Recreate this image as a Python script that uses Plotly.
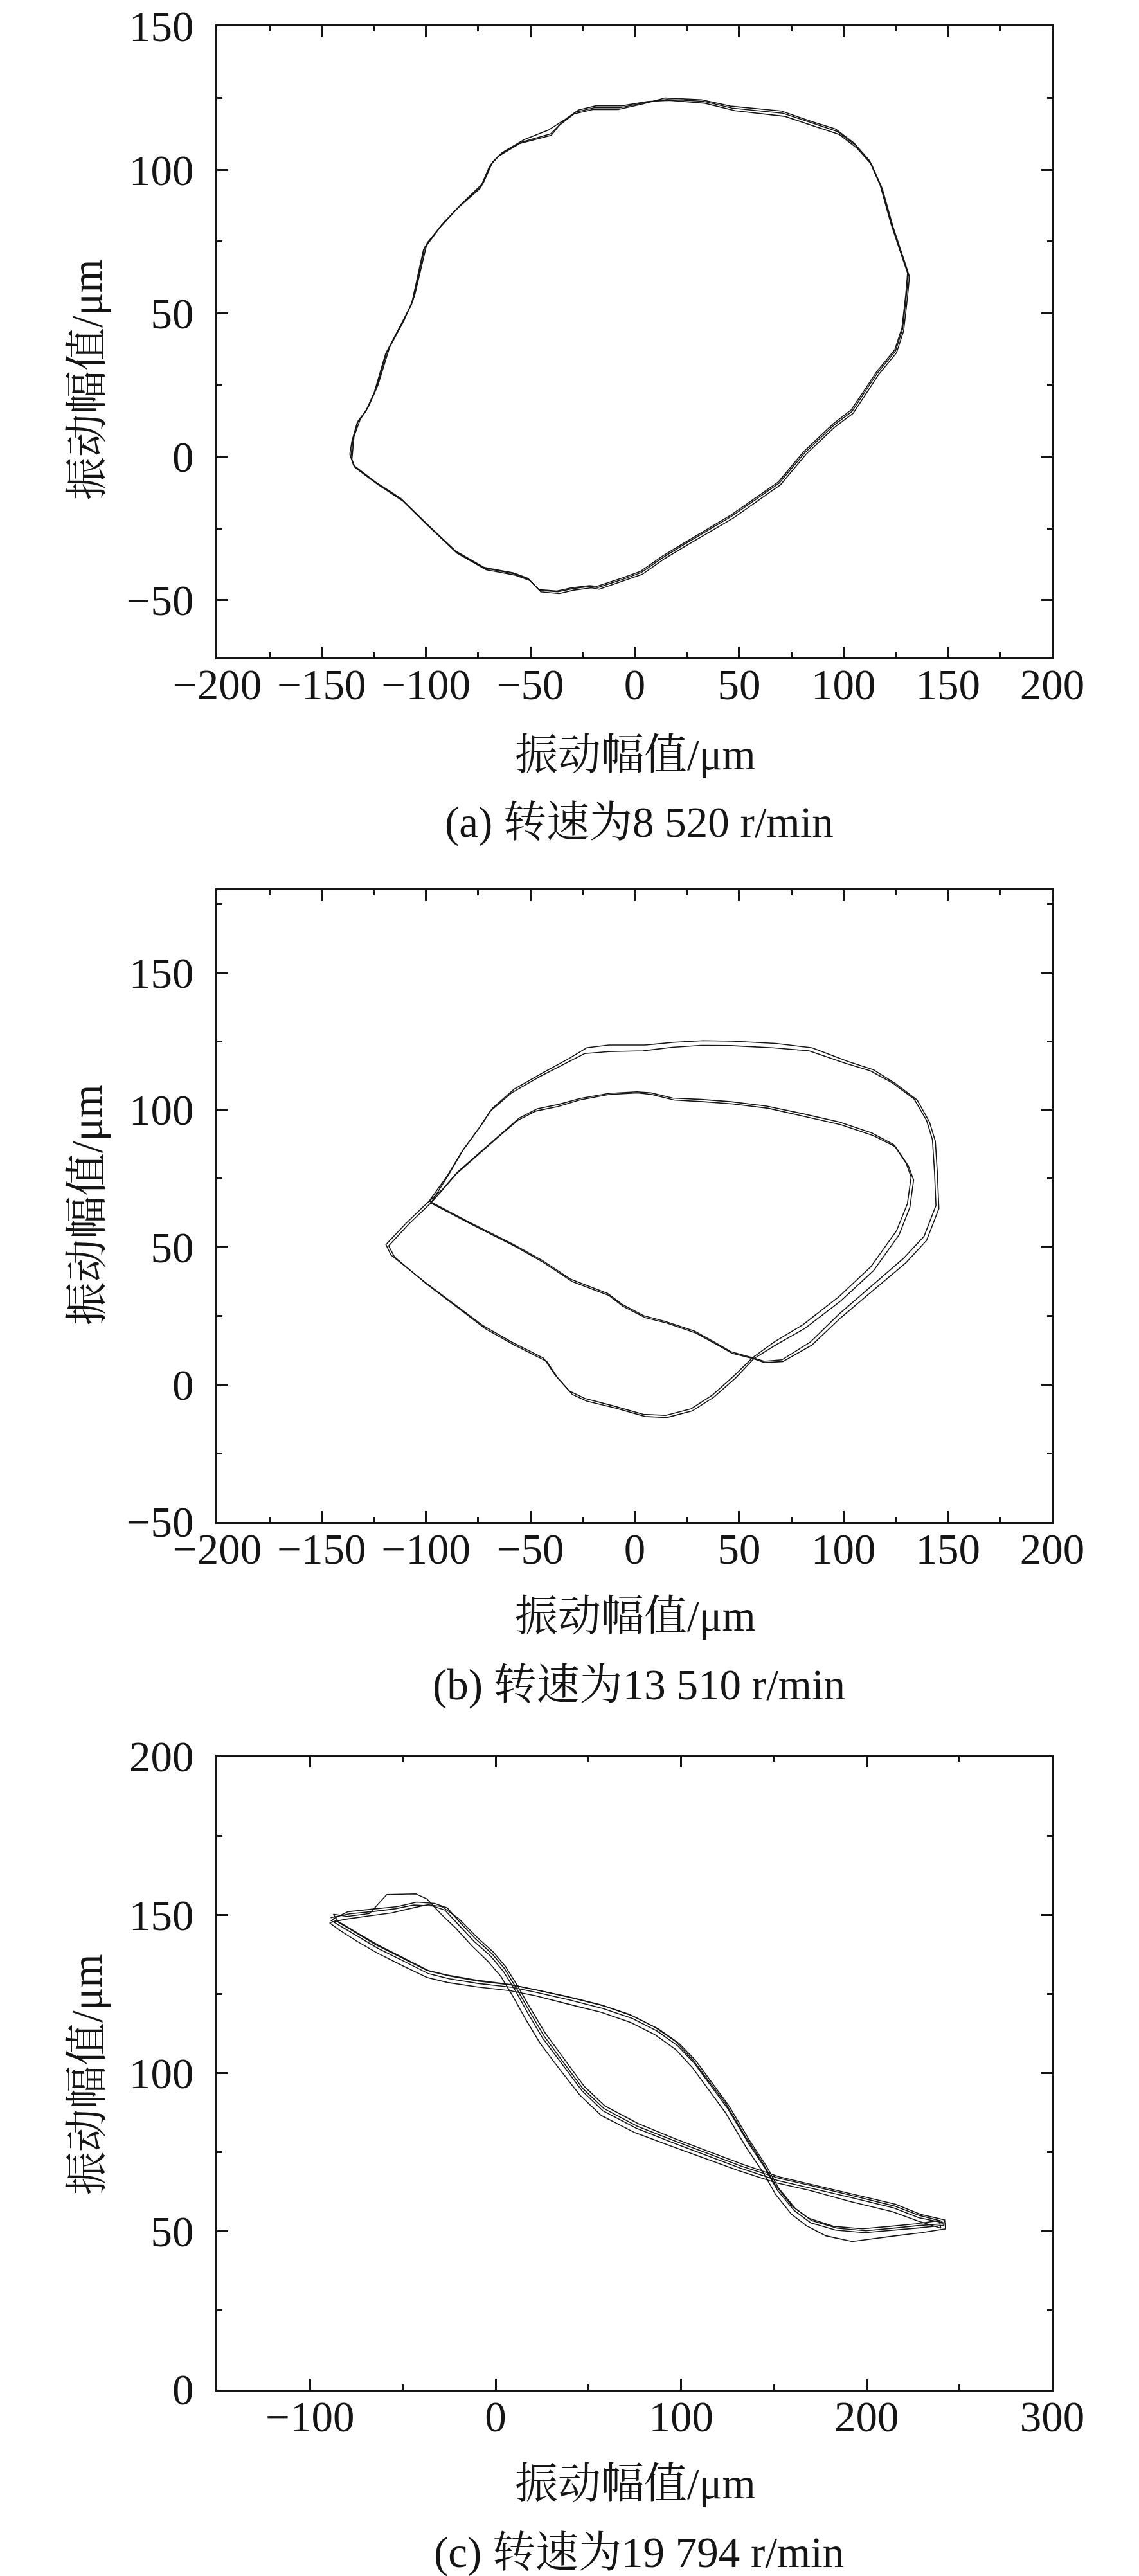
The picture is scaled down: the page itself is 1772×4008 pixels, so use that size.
import plotly.graph_objects as go

# ---------------- data ----------------
# (a) 8 520 r/min  -- three revolutions
a1_x = [-136,-135,-132.5,-128.5,-124,-118.6,-111.7,-106.4,-100.5,-92.5,-83.8,-73.4,-68.9,-64.7,-54.3,-40.3,-35.1,-28.2,-19.5,-7.3,4.9,15.3,32.7,46.6,71,84.9,97,105.7,112.7,117.9,123.1,128.3,131.1,130.1,128.3,124.9,116.2,111,104,95.3,81.4,69.2,46.6,22.3,13.6,3.1,-5.6,-17.7,-21.2,-29.9,-36.9,-45.6,-50.8,-57.7,-71.7,-85.6,-99.5,-111.7,-123.8,-134.3,-136]
a1_y = [0,6,12.5,16.3,23.4,36.8,46.4,54,73.2,80.8,87.5,94.3,101.9,105.2,109.6,112.5,116.3,120.1,121.6,121.6,123.4,124.5,123.9,121.5,119.7,116.3,113.4,108.6,102.9,94.3,80.8,69.3,63.6,55.9,44.4,36.8,29.1,23.4,15.7,10.9,1.3,-9.2,-20.7,-31.2,-35.1,-40.4,-42.7,-45.6,-45.2,-46,-47.1,-46.6,-42.7,-40.8,-38.9,-33.1,-23.6,-14.9,-9.2,-3.4,0]
a2_x = [-135.5,-134.5,-131.5,-127.5,-123,-117.5,-110.5,-105.5,-99.5,-91,-82.5,-72.5,-68,-63.5,-53,-41.5,-33.5,-27,-18.5,-6,6,16.5,33.5,48,72,86,98,106.5,113.5,118.6,123.8,129,131.6,130.6,128.8,125.4,116.8,111.6,104.6,95.8,82,69.8,47.2,22.8,14.2,3.6,-5,-17,-20.6,-29.2,-36.2,-45,-50.2,-57.2,-71.2,-85.2,-99,-111.2,-123.3,-134,-135.5]
a2_y = [-1,7,13,17.5,25,38,47.5,56,74.5,82,88.5,95.5,102.8,106,110.5,113.8,117.5,120.8,122.3,122.3,123.8,124.2,123.2,120.6,118.6,115.2,112.3,107.5,101.8,93.4,80,68.6,62.8,55.2,43.8,36.2,28.6,22.8,15.1,10.3,0.8,-9.8,-21.4,-31.8,-35.6,-41,-43.2,-46.2,-45.7,-46.5,-47.7,-47.1,-43.2,-41.3,-39.4,-33.6,-24.1,-15.4,-9.6,-3.8,-1]
a3_x = [-136.5,-135.5,-133,-129,-124.8,-119.4,-112.4,-107,-101.2,-93.2,-84.6,-74.2,-69.6,-65.5,-55,-40,-36,-29,-20.2,-8,4.2,14.5,32,45.8,70.2,84,96.2,105,112.2,117.5,122.7,127.9,130.7,129.8,128,124.6,115.9,110.7,103.7,95,81,68.8,46.2,22,13.2,2.7,-6,-18.1,-21.6,-30.3,-37.3,-46,-51.2,-58.1,-72.1,-86,-99.9,-112.1,-124.2,-134.7,-136.5]
a3_y = [0.8,5.4,11.8,15.6,22.4,35.8,45.4,53,72.2,80,86.8,93.4,101.2,104.6,109.2,112,115.6,119.5,121,121,123,125,124.4,122.2,120.5,117,114.2,109.4,103.4,94.8,81.3,69.8,64,56.4,44.9,37.3,29.6,23.9,16.3,11.4,1.8,-8.8,-20.3,-30.8,-34.7,-40,-42.3,-45.2,-44.9,-45.7,-46.8,-46.3,-42.4,-40.5,-38.6,-32.8,-23.2,-14.5,-8.8,-3,0.8]

# (b) 13 510 r/min -- two revolutions of a period-doubled orbit
b1_x = [-97.7,-78.6,-57.7,-43.8,-29.9,-12.5,-5.6,4.9,15.3,29.2,39.7,46.6,57,62.3,71,84.9,98.8,116.2,130.1,139.8,145.7,145,144,141.2,135.3,124.9,114.4,102.3,84.9,67.5,46.6,32.7,18.8,4.9,-12.5,-23,-31.7,-43.8,-57.7,-68.2,-73.4,-82.1,-89,-97.7,-108.2,-117.9,-115.1,-99.5,-85.6,-71.7,-57.7,-42.1,-36.9,-29.9,-23,-9,4.9,15.3,27.5,37.9,48.3,57,67.5,81.4,98.8,114.4,126.6,131.8,133.6,131.1,124.9,114.4,98.8,81.4,64,46.6,32.7,18.8,8.3,1.4,-12.5,-26.4,-36.9,-47.3,-56,-64.7,-75.1,-85.6,-92.5,-97.7]
b1_y = [66.1,58.5,50.5,44.5,37.5,32.5,28.5,24.4,22.4,18.8,14.4,11.4,9.4,8,8.4,14.4,24.4,35.5,44.5,52.5,64.1,76.6,88.6,95.6,103.6,109.6,114.6,117.6,122.6,124.2,125,125.2,124.6,123.6,123.6,122.6,118.6,113.6,107.6,100.6,94.6,85.6,76.6,66.1,58.5,50.5,46.5,36.5,28.5,20.4,14.4,8.4,2.4,-3.6,-6,-8.6,-11.6,-12,-9.6,-4.6,2.4,9.4,14.4,20.4,30.5,41.5,54.5,64.5,74.5,79.6,86.6,90.6,94.6,97.6,100.6,102.2,103,103.6,105.6,106.2,105.6,103.6,101.2,99.6,96.2,90.6,83.6,76.6,70.5,66.1]
b2_x = [-98.5,-79.5,-58.5,-44.5,-30.5,-13,-6,4.2,14.6,28.6,39,46,56.5,62,70.5,84,97.8,115,128.8,138.6,144.3,143.6,142.6,139.8,133.8,123.5,113,100.8,83.5,66,46,32,18,4,-12.5,-24,-33.2,-45.3,-59,-69.3,-74.5,-83,-90,-98.5,-109.5,-119.2,-116.8,-101,-87,-73,-59,-43.6,-38.2,-31.2,-24,-10,4,14.8,27,37.2,47.6,56.5,67,80.6,97.8,113.2,125.4,130.6,132.4,130,124,113.6,98,80.6,63.2,46,32,18.2,7.8,1,-12.5,-26,-36.5,-46.8,-55.4,-64,-74.4,-85,-92,-98.5]
b2_y = [66.8,59.2,51.2,45.3,38.3,33.2,29.2,25.1,23,19.5,15.1,12,9.8,8.5,9,15.4,25.6,36.8,46,54,65.2,77.5,89.2,96.2,104,109.8,114.2,117,121.5,122.6,123.4,123.5,122.8,121.5,121.2,120.5,117,112.2,106.2,99.5,93.5,84.6,75.8,66.8,58.8,51,47.2,37.6,29.6,21.6,15.5,9.6,3.5,-2.4,-5,-7.8,-10.8,-11.2,-8.8,-3.8,3.2,9.8,15.6,21.8,32,43,56,65.8,75.6,80.6,87.4,91.6,95.6,98.6,101.4,103,103.8,104.3,106.2,106.6,106,104.2,102,100.4,97,91.4,84.4,77.3,71.2,66.8]

# (c) 19 794 r/min -- four revolutions of the figure-eight orbit
c1_x = [-88.9,-78.8,-65.4,-54.2,-44.1,-34,-27.3,-20.6,-11.6,-2.6,4.1,10.8,17.5,25.4,35.4,46.6,57.8,75.8,95.9,113.8,131.8,151.9,169.8,192.2,214.6,228.1,241.5,241.5,228.1,214.6,198.9,183.3,169.8,160.9,151.9,145.2,136.2,125,116.1,107.1,98.2,87,73.5,57.8,39.9,22,8.6,-9.4,-25,-36.2,-49.7,-63.1,-74.3,-83.3,-88.9]
c1_y = [149.1,150.3,151.1,151.9,153.1,152.8,151.5,147.2,141.6,136.9,132.2,125.9,118.8,111,103.1,94.4,88.1,82.6,77.9,74,70,66.1,63.7,60.6,57.4,54.3,52.7,51.9,51.1,50.4,49.6,50.4,52.7,56.6,63,70,77.9,88.9,96,103.1,108.6,113.3,117.3,120.4,123.1,125.5,127.1,128.3,129.8,131.4,135.4,139.3,143.2,146.4,148.3]
c2_x = [-87.5,-80,-68,-58.6,-43,-37,-29,-21.5,-12.8,-4,3,9.6,16.2,24,34,45.5,57,75,95.2,113,131,151,169,191.4,214,228,240,239,226.5,212.8,197.5,182,168.6,159.8,150.8,144,135,124,115,106,97,85.6,72,56.4,38.6,20.8,7.4,-10.5,-26.5,-37.6,-51,-64.5,-75.5,-84.5,-87.5]
c2_y = [150.2,149.5,150.4,156.4,156.6,155,150,145.8,140.2,135.2,130.4,124,117,109.4,101.6,93,86.6,81.2,76.8,73,69.2,65.4,63,59.4,56.2,53.2,51,53.4,52.4,51.6,50.8,51.6,54.2,58,64.6,71.6,79.6,90.4,97.5,104.4,110,114.6,118.6,121.6,124.2,126.4,128,129.4,131,132.6,136.6,140.5,144.4,147.6,150.2]
c3_x = [-89.5,-81,-69,-56,-46,-36.5,-28.8,-19.5,-10.2,-1.2,5.4,12,18.8,26.8,36.8,47.8,59,77,97,115,133,153,170.6,193,215.5,229,242,242.5,229.5,215.5,203,192.2,178,167.5,159.5,151,144.2,135,124,115,106,97.2,86.2,72.8,57,39,21.5,8,-10,-25.8,-37,-50.5,-64,-75.2,-84.2,-89.5]
c3_y = [147.5,148.6,149.6,150.6,152,153.2,152.6,148.6,143,138.2,133.6,127.4,120.4,112.6,104.6,95.8,89.6,84,79.2,75.2,71.2,67.2,64.8,61.8,58.6,55.4,53.6,50.8,49.6,48.6,47.6,46.8,48.6,51.8,55.4,61.6,68.6,76.6,87.4,94.6,101.8,107.4,112,116,119.2,121.8,124.4,126,127.2,128.6,130.2,134,138,141.8,145.2,147.5]
c4_x = [-88,-79.5,-66.5,-53,-42.5,-33,-26,-19.8,-10.8,-1.8,4.8,11.4,18.2,26,36,47.2,58.4,76.4,96.5,114.4,132.4,152.5,170.4,192.8,215,228.6,240.5,240.8,227.4,214,199.5,184,170.4,161.6,152.6,146,137,125.8,116.8,107.8,98.8,87.6,74,58.4,40.6,22.6,9.2,-8.8,-24.4,-35.6,-49,-62.6,-73.8,-82.8,-88]
c4_y = [148.6,151,151.8,152.6,154,153.6,152.2,148,142.4,137.6,133,126.6,119.6,111.8,103.8,95,88.8,83.2,78.6,74.6,70.6,66.8,64.4,61.2,58,55,53.2,52.4,51.8,51,50.2,51,53.4,57.2,63.6,70.6,78.6,89.6,96.8,104,109.4,114,118,121.2,123.8,126.2,127.8,129,130.6,132.2,136.2,140.2,144,147.2,148.6]

axis_title = "振动幅值/μm"
captions = ["(a) 转速为8 520 r/min", "(b) 转速为13 510 r/min", "(c) 转速为19 794 r/min"]

# ---------------- figure ----------------
W, H = 1772, 4008
FONT = "Liberation Serif, 'Noto Serif CJK SC', 'Noto Sans CJK SC', serif"
INK = "#151515"

def py(px):  # pixel row -> paper y
    return 1 - px / H

fig = go.Figure()
series = [
    (1, [(a1_x, a1_y), (a2_x, a2_y), (a3_x, a3_y)]),
    (2, [(b1_x, b1_y), (b2_x, b2_y)]),
    (3, [(c1_x, c1_y), (c2_x, c2_y), (c3_x, c3_y), (c4_x, c4_y)]),
]
for k, loops in series:
    sfx = "" if k == 1 else str(k)
    for xs, ys in loops:
        fig.add_trace(go.Scatter(x=xs, y=ys, mode="lines",
                                 line=dict(color=INK, width=1.6),
                                 xaxis="x" + sfx, yaxis="y" + sfx,
                                 showlegend=False, hoverinfo="skip"))

xdom = [330 / W, 1629 / W]
ydoms = [[py(1015), py(33)], [py(2360), py(1377)], [py(3710), py(2725)]]
xr = [[-200, 200], [-200, 200], [-150, 300]]
yr = [[-70, 150], [-50, 180], [0, 200]]
xd = [(50, 25), (50, 25), (100, 50)]
yd = [(50, 25), (50, 25), (50, 25)]

def ax(rng, dom, dt, anchor):
    return dict(range=rng, domain=dom, anchor=anchor, dtick=dt[0], tick0=0,
                automargin=False, ticklabeloverflow="allow",
                showline=True, linewidth=3, linecolor=INK, mirror="ticks",
                ticks="inside", ticklen=17, tickwidth=3, tickcolor=INK,
                minor=dict(dtick=dt[1], tick0=0, ticks="inside", ticklen=8,
                           tickwidth=3, tickcolor=INK, showgrid=False),
                showgrid=False, zeroline=False,
                tickfont=dict(family=FONT, size=67, color=INK))

layout = dict(template="none", width=W, height=H, margin=dict(l=0, r=0, t=0, b=0, autoexpand=False),
              paper_bgcolor="white", plot_bgcolor="white", showlegend=False)
for i in range(3):
    sfx = "" if i == 0 else str(i + 1)
    xa = ax(xr[i], xdom, xd[i], "y" + sfx)
    xa["ticklabelstandoff"] = -18
    ya = ax(yr[i], ydoms[i], yd[i], "x" + sfx)
    ya["ticklabelstandoff"] = 20
    layout["xaxis" + sfx] = xa
    layout["yaxis" + sfx] = ya
fig.update_layout(**layout)

xt_rows = [1166, 2506, 3856]
cap_rows = [1271, 2613, 3963]
yt_rows = [583, 1867, 3220]
for i in range(3):
    fig.add_annotation(text=axis_title, x=980 / W, y=py(xt_rows[i]), xref="paper", yref="paper",
                       showarrow=False, xanchor="center", yanchor="middle",
                       font=dict(family=FONT, size=67, color=INK))
    fig.add_annotation(text=captions[i], x=986 / W, y=py(cap_rows[i]), xref="paper", yref="paper",
                       showarrow=False, xanchor="center", yanchor="middle",
                       font=dict(family=FONT, size=67, color=INK))
    fig.add_annotation(text=axis_title, x=127 / W, y=py(yt_rows[i]), xref="paper", yref="paper",
                       showarrow=False, xanchor="center", yanchor="middle", textangle=-90,
                       font=dict(family=FONT, size=67, color=INK))

fig.write_html("out.html")
